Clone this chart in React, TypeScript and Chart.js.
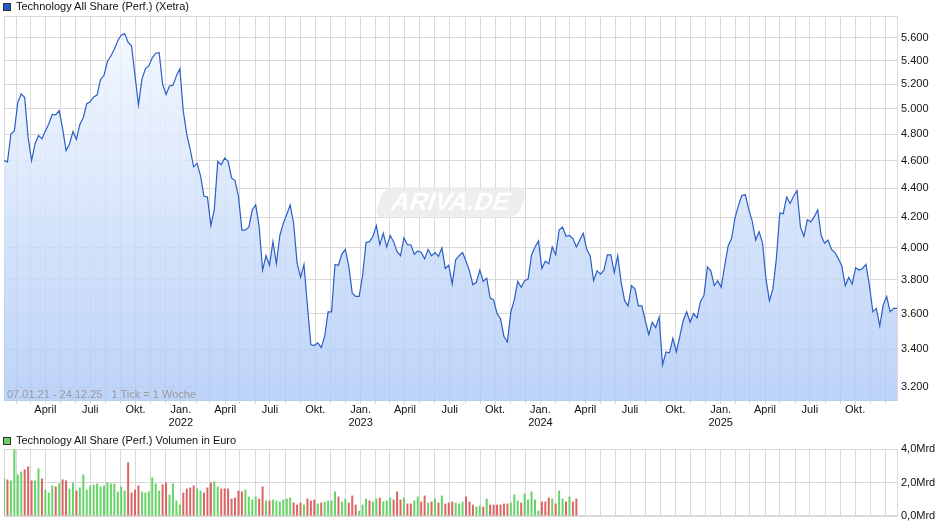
import React, { useEffect, useRef } from "react";
import { Chart, registerables } from "chart.js";

Chart.register(...registerables);

const FONT = "'Liberation Sans', Arial, Helvetica, sans-serif";
Chart.defaults.font.family = FONT;
Chart.defaults.font.size = 11;

// ---------- texts ----------
const PRICE_TITLE = "Technology All Share (Perf.) (Xetra)";
const VOLUME_TITLE = "Technology All Share (Perf.) Volumen in Euro";
const RANGE_NOTE = "07.01.21 - 24.12.25";
const TICK_NOTE = "1 Tick = 1 Woche";
const WATERMARK = "ARIVA.DE";

// ---------- time axis ----------
const START_DATE = Date.UTC(2021, 0, 7); // 07.01.21
const WEEK_DAYS = 7;
const X_MAX_DAY = 1815;
const MONTH_NAMES = ["Jan.", "", "", "April", "", "", "Juli", "", "", "Okt.", "", ""];
const YEARS = [2021, 2022, 2023, 2024, 2025];

// ---------- price (weekly closes, index points) ----------
const PRICE: number[] = [
  4600, 4590, 4800, 4825, 5050, 5120, 5090, 4775, 4600, 4725,
  4790, 4765, 4825, 4880, 4955, 4950, 4985, 4845, 4675, 4725,
  4820, 4760, 4875, 4930, 5040, 5055, 5095, 5110, 5240, 5275,
  5395, 5440, 5500, 5575, 5625, 5640, 5560, 5530, 5270, 5030,
  5240, 5330, 5355, 5425, 5465, 5470, 5200, 5115, 5185, 5190,
  5270, 5330, 4980, 4800, 4685, 4555, 4580, 4490, 4345, 4340,
  4145, 4255, 4595, 4570, 4620, 4595, 4475, 4455, 4345, 4115,
  4115, 4135, 4250, 4285, 4140, 3860, 3950, 3890, 4040, 3900,
  4080, 4160, 4220, 4285, 4160, 3905, 3815, 3895, 3645, 3425,
  3420, 3435, 3410, 3470, 3610, 3610, 3895, 3890, 3960, 3990,
  3885, 3720, 3700, 3700, 3825, 4035, 4040, 4075, 4145, 4020,
  4095, 4005, 4080, 4040, 3975, 3950, 4065, 4020, 4020, 3960,
  3980, 3970, 3930, 3990, 3950, 3970, 3945, 4000, 3870, 3890,
  3775, 3925, 3950, 3970, 3915, 3855, 3770, 3785, 3860, 3790,
  3810, 3690, 3680, 3600, 3570, 3470, 3440, 3610, 3680, 3790,
  3755, 3795, 3805, 3955, 4005, 4045, 3870, 3915, 3900, 4005,
  3955, 4115, 4135, 4075, 4080, 4060, 4005, 4050, 4095, 3990,
  3950, 3795, 3855, 3835, 3860, 3955, 3955, 3845, 3950, 3785,
  3675, 3645, 3765, 3745, 3645, 3645, 3560, 3480, 3550, 3520,
  3580, 3315, 3385, 3380, 3460, 3385, 3470, 3560, 3610, 3550,
  3600, 3575, 3670, 3705, 3880, 3855, 3765, 3795, 3755, 3885,
  4010, 4060, 4195, 4280, 4350, 4355, 4255, 4175, 4050, 4105,
  4030, 3805, 3675, 3745, 3930, 4230, 4225, 4340, 4295, 4345,
  4385, 4135, 4075, 4185, 4170, 4205, 4250, 4080, 4030, 4050,
  3990, 3970, 3930, 3885, 3765, 3815, 3775, 3875, 3860, 3870,
  3895, 3765, 3610, 3630, 3530, 3650, 3700, 3610, 3630, 3630,
];
const PRICE_TICKS = [3200, 3400, 3600, 3800, 4000, 4200, 4400, 4600, 4800, 5000, 5200, 5400, 5600];
const PRICE_MIN = 3129;
const PRICE_MAX = 5801;

// ---------- volume (weekly, Mrd. Euro) ----------
const VOLUME_MRD: (number | null)[] = [
  2.28, 2.18, 2.12, 3.98, 2.48, 2.66, 2.78, 2.96, 2.12, 2.12,
  2.84, 2.24, 1.58, 1.40, 1.82, 1.76, 1.94, 2.18, 2.12, 1.64,
  2.00, 1.52, 1.70, 2.48, 1.58, 1.82, 1.88, 1.94, 1.76, 1.82,
  2.00, 1.94, 1.94, 1.46, 1.76, 1.52, 3.20, 1.40, 1.58, 1.82,
  1.46, 1.40, 1.46, 2.30, 1.94, 1.52, 1.88, 2.00, 1.28, 1.94,
  0.92, 0.68, 1.40, 1.64, 1.70, 1.82, 1.64, 1.52, 1.40, 1.70,
  2.00, 2.06, 1.76, 1.64, 1.64, 1.64, 1.04, 1.10, 1.52, 1.46,
  1.58, 1.16, 0.98, 1.16, 1.04, 1.76, 0.92, 0.92, 0.98, 0.92,
  0.86, 0.98, 1.04, 1.10, 0.80, 0.68, 0.80, 0.68, 1.04, 0.92,
  0.98, 0.74, 0.80, 0.86, 0.92, 0.92, 1.46, 1.16, 0.86, 1.04,
  0.80, 1.22, 0.68, 0.32, 0.68, 1.04, 0.92, 0.86, 1.04, 1.10,
  0.86, 0.92, 1.10, 0.98, 1.46, 0.98, 1.10, 0.74, 0.74, 0.92,
  1.16, 0.86, 1.22, 0.80, 0.86, 1.04, 0.80, 1.22, 0.74, 0.80,
  0.86, 0.80, 0.74, 0.86, 1.16, 0.86, 0.68, 0.56, 0.62, 0.56,
  1.04, 0.68, 0.68, 0.68, 0.68, 0.74, 0.74, 0.80, 1.28, 0.92,
  0.80, 1.34, 0.98, 1.46, 0.98, 0.32, 0.86, 0.86, 1.10, 1.04,
  0.74, 1.52, 1.04, 0.86, 1.16, 0.86, 1.04, null, null, null,
  null, null, null, null, null, null, null, null, null, null,
  null, null, null, null, null, 0.03,
];
// 1 = rising week (green), 0 = falling week (red)
const VOLUME_UP: number[] = [
  1, 0, 1, 1, 1, 1, 0, 0, 0, 1,
  1, 0, 1, 1, 1, 0, 1, 0, 0, 1,
  1, 0, 1, 1, 1, 1, 1, 1, 1, 1,
  1, 1, 1, 1, 1, 1, 0, 0, 0, 0,
  1, 1, 1, 1, 1, 1, 0, 0, 1, 1,
  1, 1, 0, 0, 0, 0, 1, 1, 0, 0,
  0, 1, 1, 0, 0, 0, 0, 0, 0, 0,
  1, 1, 1, 1, 0, 0, 1, 0, 1, 1,
  1, 1, 1, 1, 0, 0, 0, 1, 0, 0,
  0, 1, 0, 1, 1, 1, 1, 0, 1, 1,
  0, 0, 0, 1, 1, 1, 0, 1, 1, 0,
  1, 1, 1, 0, 0, 0, 1, 0, 0, 1,
  1, 0, 0, 1, 0, 1, 0, 1, 0, 0,
  0, 1, 1, 1, 0, 0, 0, 1, 1, 0,
  1, 0, 0, 0, 0, 0, 0, 1, 1, 1,
  0, 1, 1, 1, 1, 1, 0, 0, 0, 1,
  0, 1, 1, 0, 1, 0, 0, 0, 0, 0,
  0, 0, 0, 0, 0, 0, 0, 0, 0, 0,
  0, 0, 0, 0, 0, 1,
];
const VOLUME_TICKS = [0, 2, 4];

// ---------- styles ----------
const GRID = "#d9d9d9";
const LINE = "#2b5fc4";
const GREEN = "#66d466";
const RED = "#dc6464";
const TEXT = "#111";

const MONTH_TICKS = (() => {
  const out: { day: number; label: string | string[] }[] = [];
  for (const y of YEARS) {
    for (let m = 0; m < 12; m++) {
      const day = Math.round((Date.UTC(y, m, 1) - START_DATE) / 86400000);
      if (day <= 0 || day >= X_MAX_DAY) continue;
      const name = MONTH_NAMES[m];
      out.push({ day, label: m === 0 ? [name, String(y)] : name });
    }
  }
  return out;
})();

const labelForDay = (v: number) => {
  const t = MONTH_TICKS.find((m) => m.day === v);
  return t ? t.label : "";
};

const fmtThousands = (v: number) => {
  const s = String(Math.round(v));
  return s.length > 3 ? s.slice(0, s.length - 3) + "." + s.slice(s.length - 3) : s;
};

const framePlugin = {
  id: "frame",
  beforeDatasetsDraw(chart: any) {
    const { ctx, chartArea: a } = chart;
    ctx.save();
    ctx.strokeStyle = GRID;
    ctx.lineWidth = 1;
    ctx.strokeRect(Math.round(a.left) + 0.5, Math.round(a.top) + 0.5, Math.round(a.right - a.left) - 1, Math.round(a.bottom - a.top) - 1);
    ctx.restore();
  },
};

const watermarkPlugin = {
  id: "watermark",
  beforeDatasetsDraw(chart: any) {
    const { ctx, chartArea: a } = chart;
    const cx = (a.left + a.right) / 2;
    const cy = (a.top + a.bottom) / 2 - 6;
    ctx.save();
    ctx.translate(cx, cy);
    ctx.transform(1, 0, -0.33, 1, 0, 0);
    ctx.beginPath();
    (ctx as any).roundRect(-72, -15, 144, 30, 9);
    ctx.fillStyle = "rgba(236,236,236,0.9)";
    ctx.fill();
    ctx.fillStyle = "#ffffff";
    ctx.font = `bold 25px ${FONT}`;
    ctx.textAlign = "center";
    ctx.textBaseline = "middle";
    ctx.fillText(WATERMARK, 0, 1);
    ctx.restore();
  },
};

const monthGrid = (tickLength: number) => ({
  color: GRID,
  lineWidth: 1,
  drawTicks: tickLength > 0,
  tickLength,
});

function PriceChart() {
  const ref = useRef<HTMLCanvasElement>(null);
  useEffect(() => {
    const chart = new Chart(ref.current as HTMLCanvasElement, {
      type: "line",
      data: {
        datasets: [
          {
            data: PRICE.map((v, i) => ({ x: i * WEEK_DAYS, y: v })),
            borderColor: LINE,
            borderWidth: 1.2,
            pointRadius: 0,
            tension: 0,
            fill: "start",
            backgroundColor: (c: any) => {
              const { chart: ch } = c;
              const a = ch.chartArea;
              if (!a) return "rgba(190,210,247,0.8)";
              const g = ch.ctx.createLinearGradient(0, a.top, 0, a.bottom);
              g.addColorStop(0, "rgba(245,249,255,0.85)");
              g.addColorStop(1, "rgba(172,200,246,0.8)");
              return g;
            },
          },
        ],
      },
      options: {
        animation: false,
        responsive: false,
        maintainAspectRatio: false,
        layout: { padding: { left: 4, top: 16, right: 0, bottom: 0 } },
        plugins: { legend: { display: false }, tooltip: { enabled: false } },
        scales: {
          x: {
            type: "linear",
            min: 0,
            max: X_MAX_DAY,
            afterBuildTicks: (s: any) => {
              s.ticks = MONTH_TICKS.map((m) => ({ value: m.day }));
            },
            afterFit: (s: any) => {
              s.height = 29;
            },
            ticks: {
              autoSkip: false,
              maxRotation: 0,
              minRotation: 0,
              padding: 0,
              color: TEXT,
              font: { size: 11, lineHeight: 1.12 },
              callback: (v: any) => labelForDay(Number(v)),
            },
            grid: monthGrid(3),
            border: { display: false },
          },
          y: {
            type: "logarithmic",
            position: "right",
            min: PRICE_MIN,
            max: PRICE_MAX,
            afterBuildTicks: (s: any) => {
              s.ticks = PRICE_TICKS.map((v) => ({ value: v }));
            },
            afterFit: (s: any) => {
              s.width = 42;
            },
            ticks: {
              padding: 3,
              color: TEXT,
              font: { size: 11 },
              callback: (v: any) => fmtThousands(Number(v)),
            },
            grid: { color: GRID, lineWidth: 1, drawTicks: false },
            border: { display: false },
          },
        },
      } as any,
      plugins: [framePlugin, watermarkPlugin],
    });
    return () => chart.destroy();
  }, []);
  return (
    <canvas
      ref={ref}
      width={940}
      height={430}
      style={{ position: "absolute", left: 0, top: 0, width: 940, height: 430 }}
    />
  );
}

function VolumeChart() {
  const ref = useRef<HTMLCanvasElement>(null);
  useEffect(() => {
    const points: any[] = [];
    VOLUME_MRD.forEach((v, k) => {
      if (v !== null) points.push({ x: k * WEEK_DAYS, y: v, up: VOLUME_UP[k] === 1 });
    });
    const chart = new Chart(ref.current as HTMLCanvasElement, {
      type: "bar",
      data: {
        datasets: [
          {
            data: points,
            barThickness: 2,
            inflateAmount: 0,
            backgroundColor: (c: any) => (c.raw && c.raw.up ? GREEN : RED),
            borderWidth: 0,
          },
        ],
      },
      options: {
        animation: false,
        responsive: false,
        maintainAspectRatio: false,
        layout: { padding: { left: 4, top: 19, right: 0, bottom: 0 } },
        plugins: { legend: { display: false }, tooltip: { enabled: false } },
        scales: {
          x: {
            type: "linear",
            min: 0,
            max: X_MAX_DAY,
            offset: false,
            afterBuildTicks: (s: any) => {
              s.ticks = MONTH_TICKS.map((m) => ({ value: m.day }));
            },
            afterFit: (s: any) => {
              s.height = 10;
            },
            ticks: { display: false },
            grid: { ...monthGrid(0), offset: false },
            border: { display: false },
          },
          y: {
            type: "linear",
            position: "right",
            min: 0,
            max: 4,
            afterBuildTicks: (s: any) => {
              s.ticks = VOLUME_TICKS.map((v) => ({ value: v }));
            },
            afterFit: (s: any) => {
              s.width = 42;
            },
            ticks: {
              padding: 3,
              color: TEXT,
              font: { size: 11 },
              callback: (v: any) => Number(v).toFixed(1).replace(".", ",") + "Mrd",
            },
            grid: { color: GRID, lineWidth: 1, drawTicks: false },
            border: { display: false },
          },
        },
      } as any,
      plugins: [framePlugin],
    });
    return () => chart.destroy();
  }, []);
  return (
    <canvas
      ref={ref}
      width={940}
      height={96}
      style={{ position: "absolute", left: 0, top: 430, width: 940, height: 96 }}
    />
  );
}

function LegendLine({ top, color, text }: { top: number; color: string; text: string }) {
  return (
    <div
      style={{
        position: "absolute",
        left: 3,
        top,
        height: 13,
        display: "flex",
        alignItems: "center",
        fontFamily: FONT,
        fontSize: 11,
        lineHeight: "13px",
        color: TEXT,
        whiteSpace: "nowrap",
      }}
    >
      <span
        style={{
          display: "inline-block",
          width: 6,
          height: 6,
          background: color,
          border: "1px solid #333",
          marginRight: 5,
        }}
      />
      <span>{text}</span>
    </div>
  );
}

export default function App() {
  return (
    <div
      style={{
        position: "absolute",
        left: 0,
        top: 0,
        width: 940,
        height: 526,
        background: "#fff",
        overflow: "hidden",
      }}
    >
      <PriceChart />
      <VolumeChart />
      <LegendLine top={0} color="#1f5bc8" text={PRICE_TITLE} />
      <LegendLine top={434} color={GREEN} text={VOLUME_TITLE} />
      <div
        style={{
          position: "absolute",
          left: 7,
          top: 388,
          fontFamily: FONT,
          fontSize: 11,
          lineHeight: "13px",
          color: "#9a9a9a",
          whiteSpace: "pre",
        }}
      >
        {RANGE_NOTE + "   " + TICK_NOTE}
      </div>
    </div>
  );
}
